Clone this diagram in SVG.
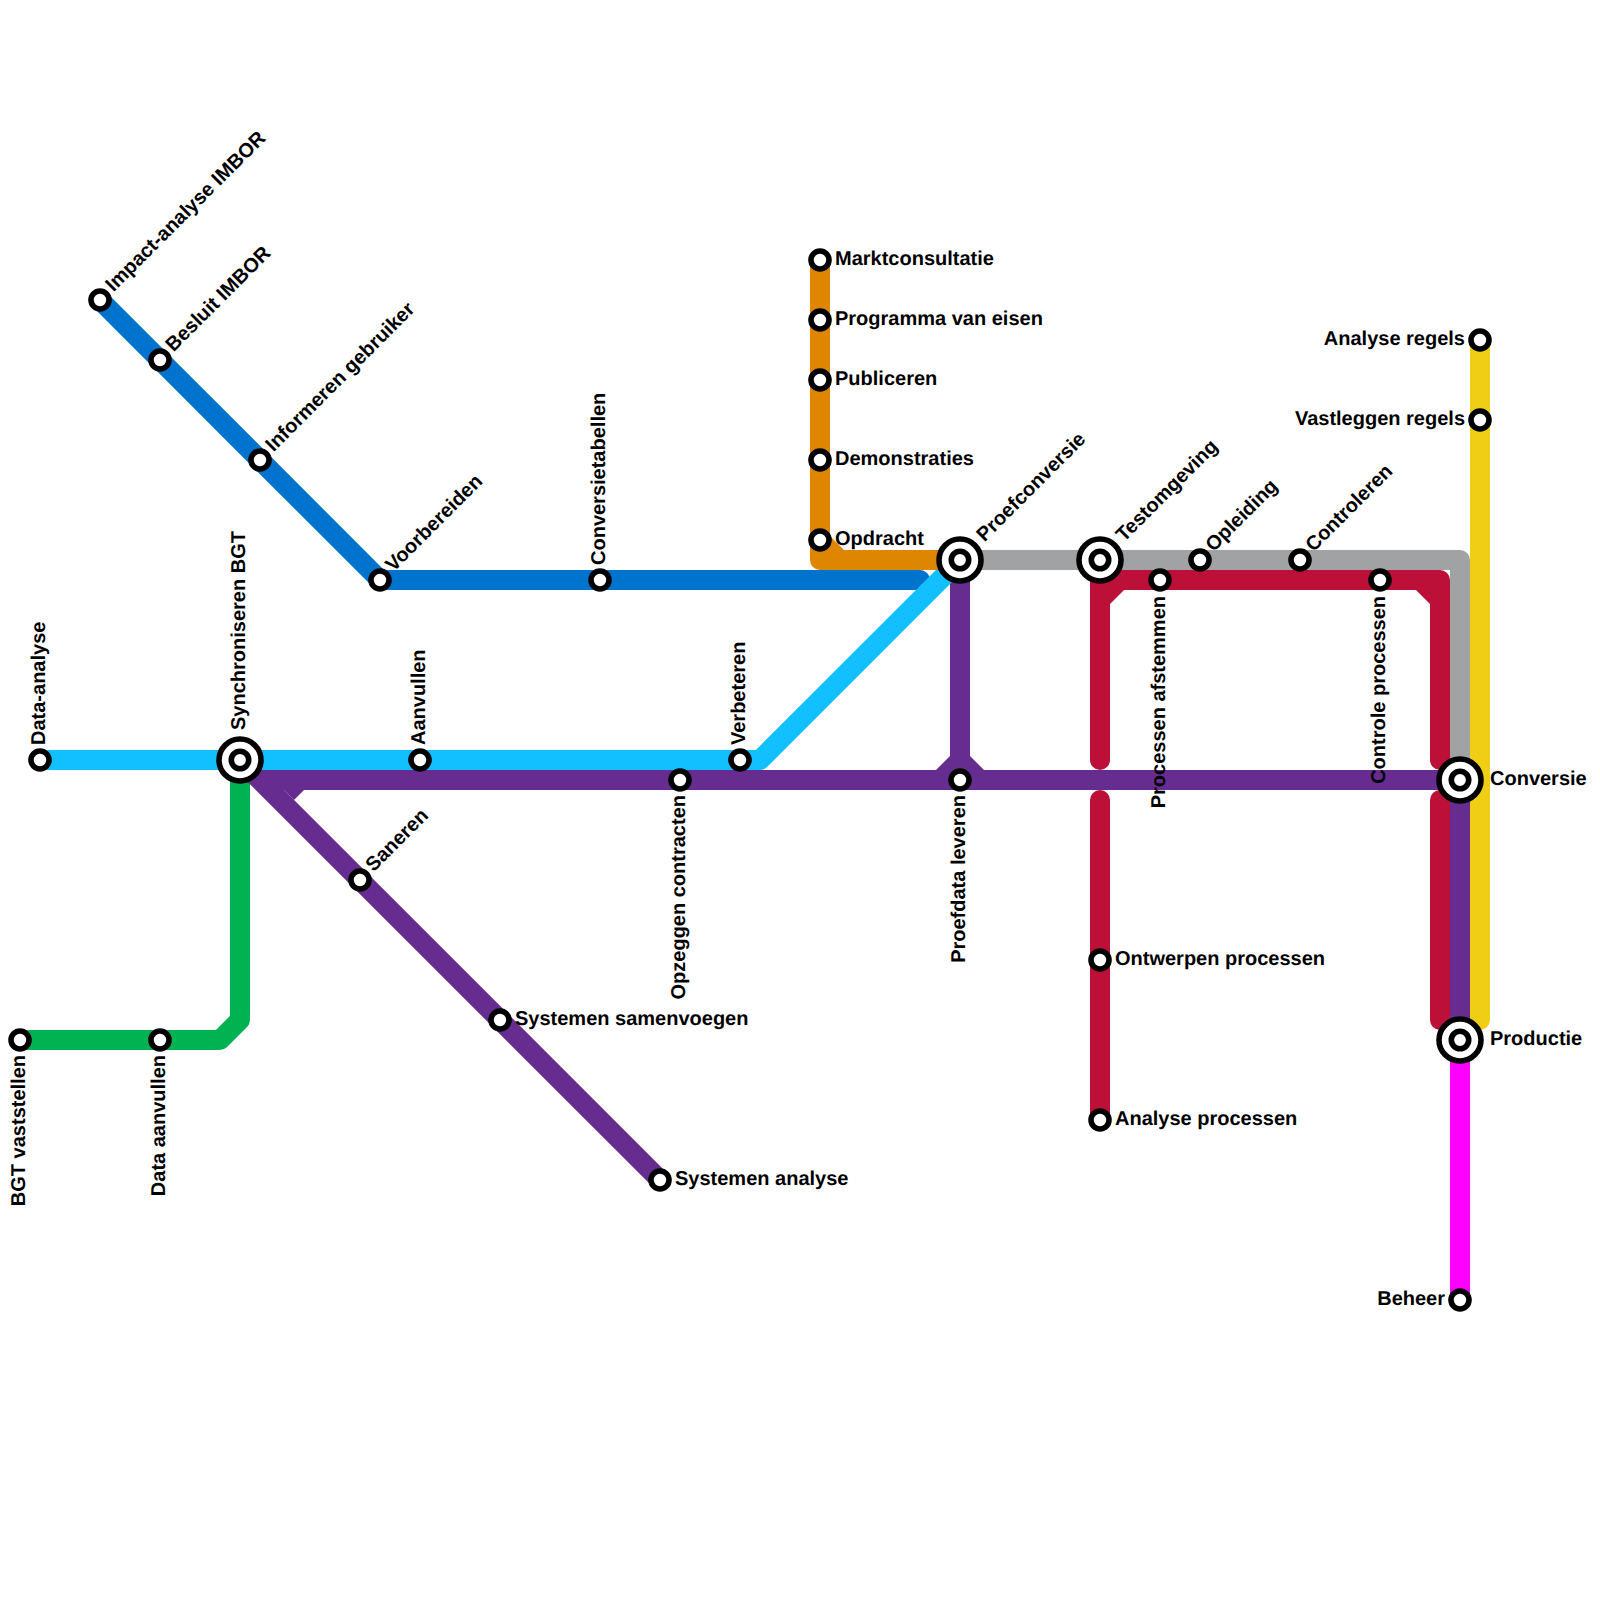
<svg xmlns="http://www.w3.org/2000/svg" width="1600" height="1600" viewBox="0 0 1600 1600">
<style>
.l{fill:none;stroke-width:20;stroke-linejoin:round;stroke-linecap:butt}
.r{stroke-linecap:round}
.blue{stroke:#0073cf}.sky{stroke:#12c0ff}.green{stroke:#00b251}.purple{stroke:#662c90}.red{stroke:#bd1038}.grey{stroke:#a1a2a3}.orange{stroke:#df8600}.yellow{stroke:#f0ce15}.magenta{stroke:#ff00ff}
.ring{fill:#fff;stroke:#000;stroke-width:5.6}
text{font-family:"Liberation Sans",Arial,sans-serif;font-weight:700;font-size:20px;fill:#000;text-rendering:geometricPrecision}
.e{text-anchor:end}
</style>
<defs>
<g id="s"><circle class="ring" r="9"/></g>
<g id="b"><circle class="ring" r="21"/><circle class="ring" r="8.7"/></g>
</defs>
<g id="connectors">
<path class="l green" d="M20 1040H220L240 1020V760"/>
<path class="l purple" style="stroke-linejoin:miter;stroke-miterlimit:4" d="M1460 780H260L660 1180"/>
<path fill="#662c90" d="M284 790H304L294 800Z"/>
<path class="l purple" d="M960 560V780"/>
<path fill="#662c90" d="M950 756L936 770H984L970 756Z"/>
<path class="l purple" d="M1460 780V1040"/>
<path class="l blue r" d="M100 300L380 580H920"/>
<path class="l sky" d="M40 760H760L960 560"/>
<path class="l orange" d="M820 260V560H960"/>
<path fill="#df8600" d="M830 536V550H844Z"/>
<path class="l grey" d="M960 560H1460V780"/>
<path class="l red r" d="M1100 760V580H1440V760"/>
<path fill="#bd1038" d="M1110 590V604L1124 590ZM1416 590H1430V604Z"/>
<path class="l red r" d="M1100 800V1120"/>
<path class="l red r" d="M1440 800V1020"/>
<path class="l yellow r" d="M1480 340V1020"/>
<path class="l magenta" d="M1460 1040V1300"/>
</g>
<g id="n1"><use href="#s" x="40" y="760"/><text transform="translate(45 745) rotate(-90)">Data-analyse</text></g>
<g id="n2"><use href="#b" x="240" y="760"/><text transform="translate(245 730) rotate(-90)">Synchroniseren BGT</text></g>
<g id="n3"><use href="#s" x="420" y="760"/><text transform="translate(425 745) rotate(-90)">Aanvullen</text></g>
<g id="n4"><use href="#s" x="740" y="760"/><text transform="translate(745 745) rotate(-90)">Verbeteren</text></g>
<g id="n5"><use href="#s" x="680" y="780"/><text class="e" transform="translate(685 795) rotate(-90)">Opzeggen contracten</text></g>
<g id="n6"><use href="#s" x="960" y="780"/><text class="e" transform="translate(965 795) rotate(-90)">Proefdata leveren</text></g>
<g id="n7"><use href="#s" x="360" y="880"/><text transform="translate(373.5 872.5) rotate(-45)">Saneren</text></g>
<g id="n8"><use href="#s" x="500" y="1020"/><text x="515" y="1025">Systemen samenvoegen</text></g>
<g id="n9"><use href="#s" x="660" y="1180"/><text x="675" y="1185">Systemen analyse</text></g>
<g id="n10"><use href="#s" x="20" y="1040"/><text class="e" transform="translate(25 1055) rotate(-90)">BGT vaststellen</text></g>
<g id="n11"><use href="#s" x="160" y="1040"/><text class="e" transform="translate(165 1055) rotate(-90)">Data aanvullen</text></g>
<g id="n12"><use href="#s" x="100" y="300"/><text transform="translate(113.500 292.500) rotate(-45)">Impact-analyse IMBOR</text></g>
<g id="n13"><use href="#s" x="160" y="360"/><text transform="translate(173.500 352.500) rotate(-45)">Besluit IMBOR</text></g>
<g id="n14"><use href="#s" x="260" y="460"/><text transform="translate(273.500 452.500) rotate(-45)">Informeren gebruiker</text></g>
<g id="n15"><use href="#s" x="380" y="580"/><text transform="translate(393.500 572.500) rotate(-45)">Voorbereiden</text></g>
<g id="n16"><use href="#s" x="600" y="580"/><text transform="translate(605 565) rotate(-90)">Conversietabellen</text></g>
<g id="n17"><use href="#s" x="820" y="260"/><text x="835" y="265">Marktconsultatie</text></g>
<g id="n18"><use href="#s" x="820" y="320"/><text x="835" y="325">Programma van eisen</text></g>
<g id="n19"><use href="#s" x="820" y="380"/><text x="835" y="385">Publiceren</text></g>
<g id="n20"><use href="#s" x="820" y="460"/><text x="835" y="465">Demonstraties</text></g>
<g id="n21"><use href="#s" x="820" y="540"/><text x="835" y="545">Opdracht</text></g>
<g id="n22"><use href="#b" x="960" y="560"/><text transform="translate(984.500 542.500) rotate(-45)">Proefconversie</text></g>
<g id="n23"><use href="#b" x="1100" y="560"/><text transform="translate(1124 542.500) rotate(-45)">Testomgeving</text></g>
<g id="n24"><use href="#s" x="1160" y="580"/><text class="e" transform="translate(1165 596) rotate(-90)">Processen afstemmen</text></g>
<g id="n25"><use href="#s" x="1200" y="560"/><text transform="translate(1213.500 552.500) rotate(-45)">Opleiding</text></g>
<g id="n26"><use href="#s" x="1300" y="560"/><text transform="translate(1313.500 552.500) rotate(-45)">Controleren</text></g>
<g id="n27"><use href="#s" x="1380" y="580"/><text class="e" transform="translate(1385 596) rotate(-90)">Controle processen</text></g>
<g id="n28"><use href="#b" x="1460" y="780"/><text x="1490" y="785">Conversie</text></g>
<g id="n29"><use href="#b" x="1460" y="1040"/><text x="1490" y="1045">Productie</text></g>
<g id="n30"><use href="#s" x="1100" y="960"/><text x="1115" y="965">Ontwerpen processen</text></g>
<g id="n31"><use href="#s" x="1100" y="1120"/><text x="1115" y="1125">Analyse processen</text></g>
<g id="n32"><use href="#s" x="1460" y="1300"/><text class="e" x="1445" y="1305">Beheer</text></g>
<g id="n33"><use href="#s" x="1480" y="340"/><text class="e" x="1465" y="345">Analyse regels</text></g>
<g id="n34"><use href="#s" x="1480" y="420"/><text class="e" x="1465" y="425">Vastleggen regels</text></g>
</svg>
